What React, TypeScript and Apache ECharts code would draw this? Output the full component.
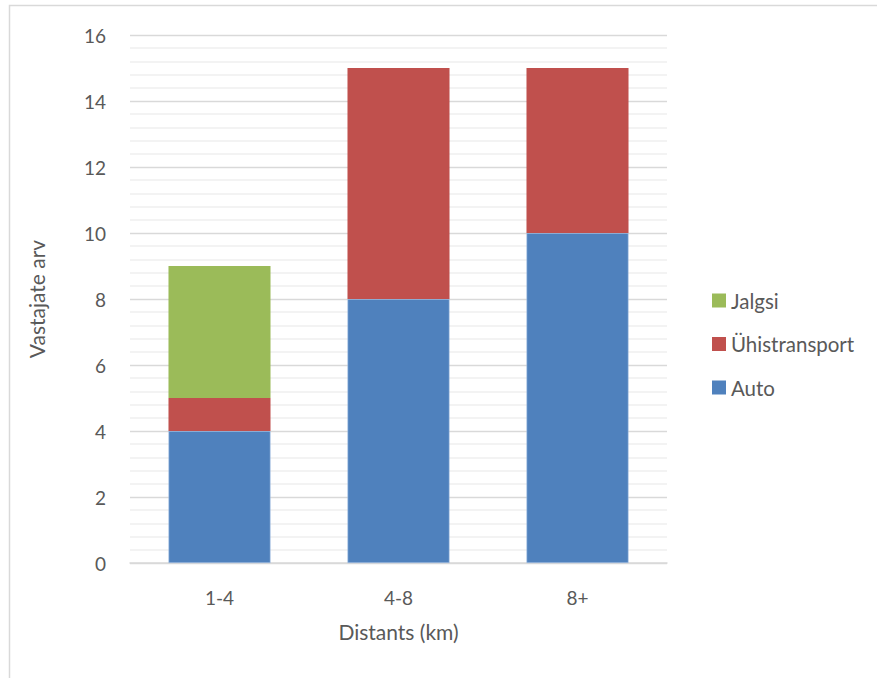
import React, { useEffect, useRef } from "react";
import * as echarts from "echarts";

const categories = ["1-4", "4-8", "8+"];
const auto = [4, 8, 10];
const uhistransport = [1, 7, 5];
const jalgsi = [4, 0, 0];
const legendOrder = ["Jalgsi", "Ühistransport", "Auto"];

const FONT = "Lato, 'Open Sans', sans-serif";

export default function App() {
  const ref = useRef<HTMLDivElement>(null);
  useEffect(() => {
    if (!ref.current) return;
    const chart = echarts.init(ref.current, undefined, { renderer: "svg" });
    chart.setOption({
      animation: false,
      backgroundColor: "#ffffff",
      textStyle: { fontFamily: FONT },
      graphic: [
        {
          type: "rect",
          shape: { x: 9.5, y: 5.5, width: 900, height: 700 },
          style: { fill: "none", stroke: "#d9d9d9", lineWidth: 1.5 },
          silent: true,
        },
      ],
      grid: { left: 130, right: 210, top: 35, bottom: 115, containLabel: false },
      legend: {
        data: legendOrder,
        orient: "vertical",
        left: 707,
        top: 285,
        itemWidth: 14,
        itemHeight: 14,
        itemGap: 22.5,
        icon: "rect",
        itemStyle: { borderWidth: 0 },
        textStyle: { fontFamily: FONT, fontSize: 20.5, color: "#595959", lineHeight: 20 },
      },
      xAxis: {
        type: "category",
        data: categories,
        name: "Distants (km)",
        nameLocation: "middle",
        nameGap: 58,
        nameTextStyle: { fontFamily: FONT, fontSize: 21, color: "#595959" },
        axisLine: { lineStyle: { color: "#d9d9d9", width: 1.5 } },
        axisTick: { show: false },
        axisLabel: { fontFamily: FONT, fontSize: 19, color: "#595959", margin: 25 },
      },
      yAxis: {
        type: "value",
        min: 0,
        max: 16,
        interval: 2,
        name: "Vastajate arv",
        nameLocation: "middle",
        nameGap: 83,
        nameTextStyle: { fontFamily: FONT, fontSize: 21, color: "#595959" },
        axisLine: { show: false },
        axisTick: { show: false },
        axisLabel: { fontFamily: FONT, fontSize: 19, color: "#595959", margin: 24 },
        splitLine: { lineStyle: { color: "#d9d9d9", width: 1.3 } },
        minorTick: { show: false, splitNumber: 5 },
        minorSplitLine: { show: true, lineStyle: { color: "#efefef", width: 1.5 } },
      },
      series: [
        {
          name: "Auto",
          type: "bar",
          stack: "total",
          data: auto,
          barWidth: "57%",
          itemStyle: { color: "#4F81BD", borderColor: "#a9c4e6", borderWidth: 0.6 },
        },
        {
          name: "Ühistransport",
          type: "bar",
          stack: "total",
          data: uhistransport,
          itemStyle: { color: "#C0504D" },
        },
        {
          name: "Jalgsi",
          type: "bar",
          stack: "total",
          data: jalgsi,
          itemStyle: { color: "#9BBB59" },
        },
      ],
    });
    return () => chart.dispose();
  }, []);
  return (
    <div
      ref={ref}
      style={{ position: "fixed", left: 0, top: 0, width: 877, height: 678 }}
    />
  );
}
